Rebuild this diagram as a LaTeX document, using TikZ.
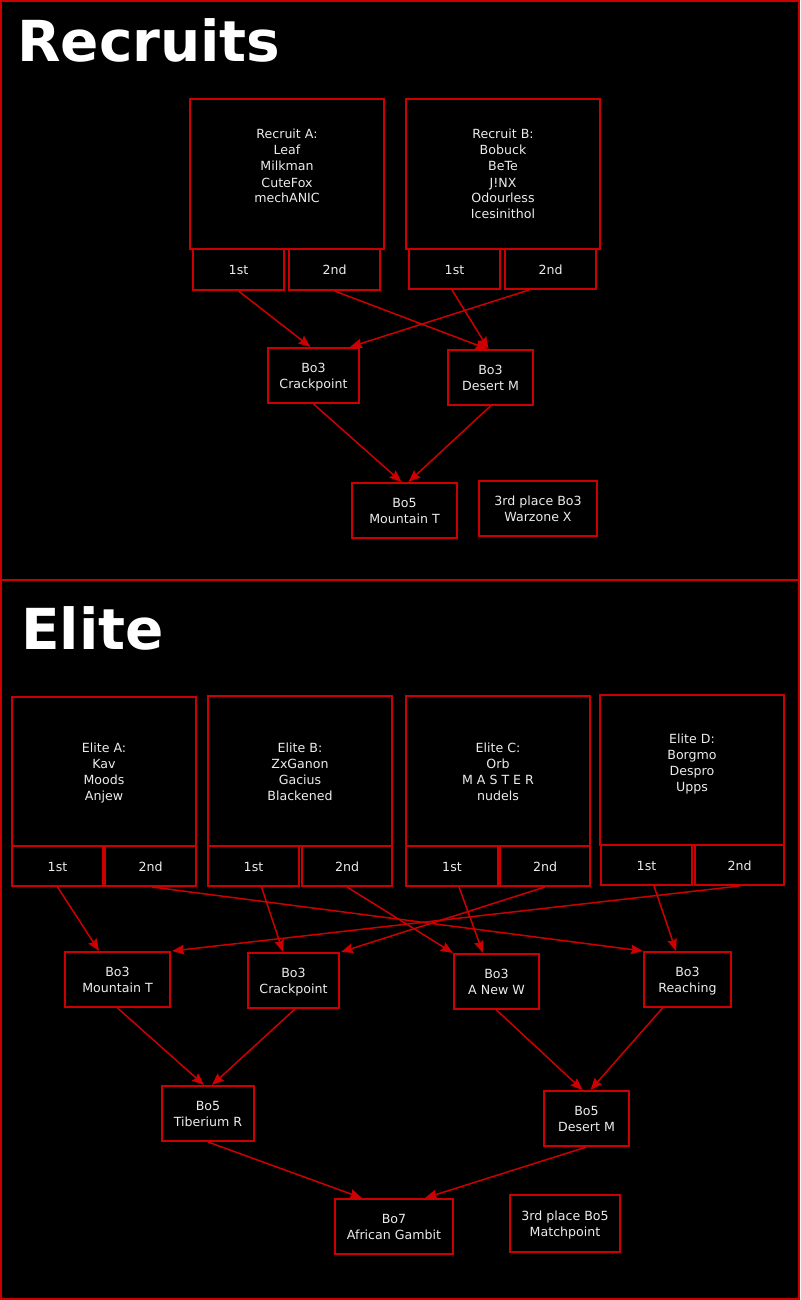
\documentclass[tikz,border=0pt]{standalone}
\usepackage{fontspec}
\setmainfont{DejaVu Sans}
\usetikzlibrary{arrows.meta}
\definecolor{rd}{RGB}{204,0,0}
\definecolor{tx}{RGB}{236,236,236}
\newcommand\lstr{\rule[-3pt]{0pt}{16pt}}
\newcommand\mtext[1]{\renewcommand\arraystretch{0}\begin{tabular}{@{}c@{}}\lstr#1\lstr\end{tabular}}
\begin{document}
\begin{tikzpicture}[x=1pt,y=-1pt,
  box/.style={draw=rd, line width=2pt, fill=black, text=tx, inner sep=0pt,
    font=\fontsize{12.6}{16}\selectfont},
  edge/.style={draw=rd, line width=1.5pt, -{Stealth[length=12pt,width=9.5pt,inset=1.5pt]}},
  title/.style={text=white, font=\fontsize{56.5}{60}\selectfont\bfseries, anchor=base west, inner sep=0pt}]
\fill[black] (0,0) rectangle (800,1300);
\useasboundingbox (0,0) rectangle (800,1300);
\draw[rd, line width=2pt] (1,1) rectangle (799,1299);
\draw[rd, line width=1.5pt] (0,580) -- (800,580);

% ---------- Recruits ----------
\node[title] (t1) at (17,62) {Recruits};
\node[box, minimum width=194, minimum height=150] (ra) at (287,174) {\mtext{Recruit A:\\\lstr Leaf\\\lstr Milkman\\\lstr CuteFox\\\lstr mechANIC\\}};
\node[box, minimum width=91, minimum height=41] (ra1) at (238.5,269.5) {\mtext{1st}};
\node[box, minimum width=91, minimum height=41] (ra2) at (334.5,269.5) {\mtext{2nd}};
\node[box, minimum width=194, minimum height=150] (rb) at (503,174) {\mtext{Recruit B:\\\lstr Bobuck\\\lstr BeTe\\\lstr J!NX\\\lstr Odourless\\\lstr Icesinithol}};
\node[box, minimum width=91, minimum height=40] (rb1) at (454.5,269) {\mtext{1st}};
\node[box, minimum width=91, minimum height=40] (rb2) at (550.5,269) {\mtext{2nd}};

\node[box, minimum width=91, minimum height=55] (rcp) at (313.5,375.5) {\mtext{Bo3\\\lstr Crackpoint}};
\node[box, minimum width=85, minimum height=55] (rdm) at (490.5,377.5) {\mtext{Bo3\\\lstr Desert M}};
\node[box, minimum width=105, minimum height=55] (rmt) at (404.5,510.5) {\mtext{Bo5\\\lstr Mountain T}};
\node[box, minimum width=118, minimum height=55] (rwz) at (538,508.5) {\mtext{3rd place Bo3\\\lstr Warzone X}};

\draw[edge] (ra1.south) -- ([xshift=-3]rcp.north);
\draw[edge] (ra2.south) -- ([xshift=-3]rdm.north);
\draw[edge] ([xshift=-2.5]rb1.south) -- ([xshift=-2]rdm.north);
\draw[edge] ([xshift=-21.5]rb2.south) -- ([xshift=36.5]rcp.north);
\draw[edge] (rcp.south) -- ([xshift=-3]rmt.north);
\draw[edge] (rdm.south) -- ([xshift=4]rmt.north);

% ---------- Elite ----------
\node[title] (t2) at (21,649) {Elite};
\node[box, minimum width=184, minimum height=149] (ea) at (104,771.5) {\mtext{Elite A:\\\lstr Kav\\\lstr Moods\\\lstr Anjew}};
\node[box, minimum width=91, minimum height=40] (ea1) at (57.5,866) {\mtext{1st}};
\node[box, minimum width=91, minimum height=40] (ea2) at (150.5,866) {\mtext{2nd}};
\node[box, minimum width=184, minimum height=150] (eb) at (300,771) {\mtext{Elite B:\\\lstr ZxGanon\\\lstr Gacius\\\lstr Blackened}};
\node[box, minimum width=91, minimum height=40] (eb1) at (253.5,866) {\mtext{1st}};
\node[box, minimum width=90, minimum height=40] (eb2) at (347,866) {\mtext{2nd}};
\node[box, minimum width=184, minimum height=150] (ec) at (498,771) {\mtext{Elite C:\\\lstr Orb\\\lstr M A S T E R\\\lstr nudels}};
\node[box, minimum width=92, minimum height=40] (ec1) at (452,866) {\mtext{1st}};
\node[box, minimum width=90, minimum height=40] (ec2) at (545,866) {\mtext{2nd}};
\node[box, minimum width=184, minimum height=150] (ed) at (692,770) {\mtext{Elite D:\\\lstr Borgmo\\\lstr Despro\\\lstr Upps\\}};
\node[box, minimum width=91, minimum height=40] (ed1) at (646.5,865) {\mtext{1st}};
\node[box, minimum width=89, minimum height=40] (ed2) at (739.5,865) {\mtext{2nd}};

\node[box, minimum width=105, minimum height=55] (emt) at (117.5,979.5) {\mtext{Bo3\\\lstr Mountain T}};
\node[box, minimum width=91, minimum height=55] (ecp) at (293.5,980.5) {\mtext{Bo3\\\lstr Crackpoint}};
\node[box, minimum width=85, minimum height=55] (enw) at (496.5,981.5) {\mtext{Bo3\\\lstr A New W}};
\node[box, minimum width=87, minimum height=55] (ere) at (687.5,979.5) {\mtext{Bo3\\\lstr Reaching}};
\node[box, minimum width=92, minimum height=55] (etr) at (208,1113.5) {\mtext{Bo5\\\lstr Tiberium R}};
\node[box, minimum width=85, minimum height=55] (edm) at (586.5,1118.5) {\mtext{Bo5\\\lstr Desert M}};
\node[box, minimum width=118, minimum height=55] (eag) at (394,1226.5) {\mtext{Bo7\\\lstr African Gambit}};
\node[box, minimum width=110, minimum height=57] (emp) at (565,1223.5) {\mtext{3rd place Bo5\\\lstr Matchpoint}};

\draw[edge] (ea1.south) -- ([xshift=-18.5]emt.north);
\draw[edge] ([xshift=1.5]ea2.south) -- (ere.north west);
\draw[edge] ([xshift=8]eb1.south) -- ([xshift=-10.5]ecp.north);
\draw[edge] (eb2.south) -- (enw.north west);
\draw[edge] ([xshift=7]ec1.south) -- ([xshift=-13.5]enw.north);
\draw[edge] (ec2.south) -- ([xshift=1]ecp.north east);
\draw[edge] ([xshift=7.5]ed1.south) -- ([xshift=-11.5]ere.north);
\draw[edge] (ed2.south) -- ([xshift=1]emt.north east);

\draw[edge] (emt.south) -- ([xshift=-4]etr.north);
\draw[edge] ([xshift=1.5]ecp.south) -- ([xshift=4]etr.north);
\draw[edge] (enw.south) -- ([xshift=-4]edm.north);
\draw[edge] ([xshift=-25]ere.south) -- ([xshift=4]edm.north);
\draw[edge] (etr.south) -- ([xshift=-32]eag.north);
\draw[edge] (edm.south) -- ([xshift=31]eag.north);
\end{tikzpicture}
\end{document}
